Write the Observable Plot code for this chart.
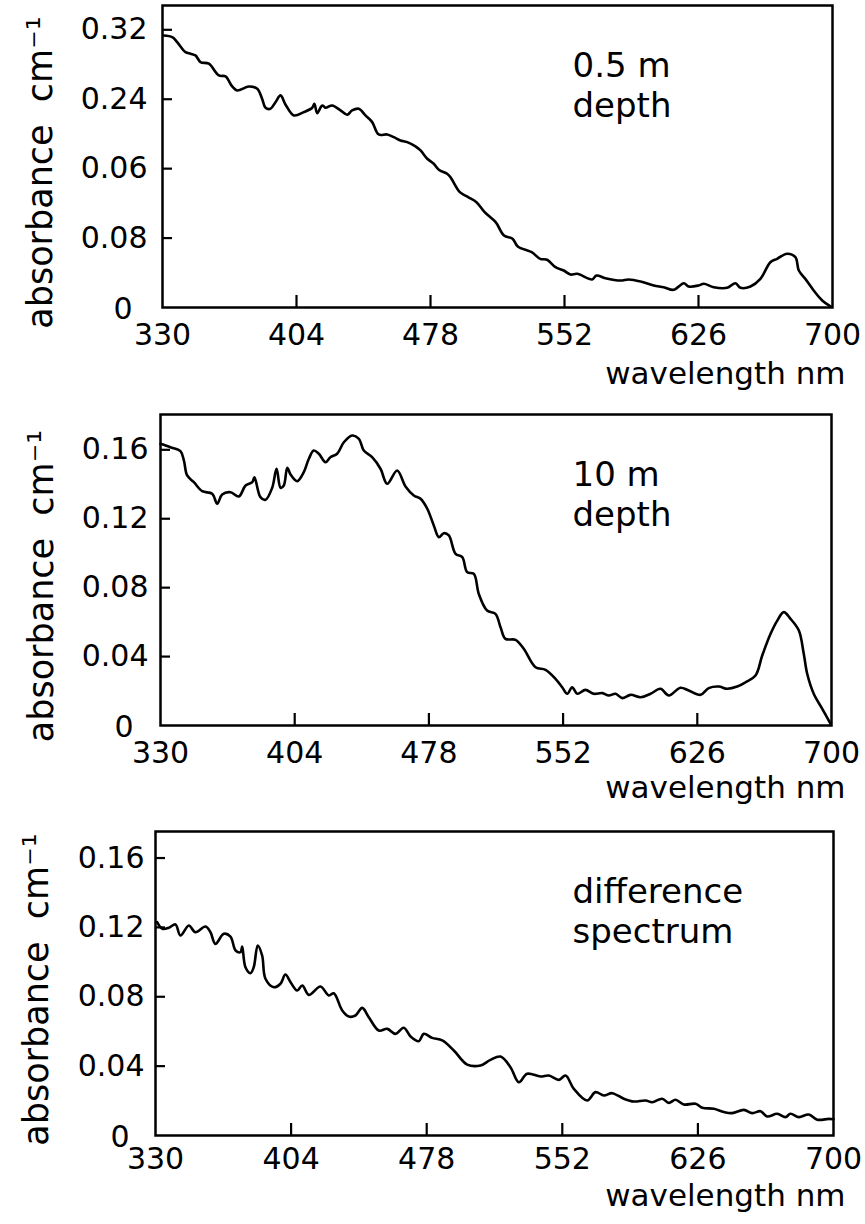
<!DOCTYPE html>
<html><head><meta charset="utf-8">
<script src="https://cdn.jsdelivr.net/npm/d3@7"></script>
<script src="https://cdn.jsdelivr.net/npm/@observablehq/plot@0.6"></script>
<style>body{margin:0;background:#fff} #chart svg{display:block}</style>
</head><body><div id="chart"></div>
<script>
// ---- data: panel 1 (0.5 m depth) ----
const wl1 = [330.7,335.4,338.1,342.7,345.5,348.2,351,355.6,361.1,364.8,368.5,371.2,377.7,382.3,385,386.9,389.6,392.4,395.2,397.9,402.5,408,412.7,413.9,415.4,418.2,420,423.7,428.3,432,434.7,438.4,442.1,445.8,449.4,454,457.7,461.4,465.1,469.7,472.5,476.2,479.8,482.6,487.2,489,494.2,498.8,503.4,507.9,514,518.6,523.3,526.2,533.9,538.6,542.4,547,551.6,555.3,559,567.3,569.6,574.6,582.9,587.5,594,601.3,606.8,612.3,617.9,620.6,626.1,628.9,634.4,641.8,646.4,649.2,654.7,660.2,665.7,669.4,674.9,679.5,681.4,685,689.6,694.3,698.9];
const abs1 = [0.3135,0.3116,0.3058,0.2943,0.2924,0.2905,0.2828,0.2809,0.2674,0.2663,0.2547,0.2501,0.2547,0.2521,0.2405,0.2302,0.229,0.2366,0.2444,0.234,0.2213,0.2251,0.2302,0.2348,0.224,0.2328,0.2302,0.2328,0.2271,0.2221,0.2271,0.229,0.2213,0.2136,0.1994,0.1994,0.1963,0.1925,0.1906,0.1856,0.181,0.1714,0.1656,0.1587,0.1541,0.1502,0.1329,0.1272,0.1214,0.1099,0.0983,0.083,0.0792,0.0703,0.0637,0.056,0.055,0.0465,0.0426,0.038,0.0388,0.0323,0.0369,0.0338,0.0311,0.0323,0.03,0.0254,0.0234,0.0204,0.028,0.0242,0.0254,0.0273,0.0234,0.0227,0.028,0.0227,0.0242,0.033,0.0522,0.0561,0.0619,0.058,0.0426,0.033,0.0196,0.0081,0.0012];
// ---- data: panel 2 (10 m depth) ----
const wl2 = [330,335.5,341,342.9,344.7,348.4,353,358.5,361.3,364,368.6,373.2,376.9,380.6,381.8,385.1,387.9,391.6,394,396.2,398,399.9,401.7,405.4,409,411.8,414.5,417.3,421,423.7,427.4,431.1,435.7,439.4,442.1,446.7,451.3,455,460.5,465.1,469.7,473.4,477.1,480.7,483.5,486.2,489,492.7,496.4,499.1,502.8,505.5,510.1,514.7,517.5,520.2,525.8,530.3,536.8,542.3,547.8,551.5,554.3,557,559.8,564.3,568.9,573.6,577.2,580.9,584.6,589.2,594.7,600.2,605.7,610.3,616.7,621.3,627.8,632.3,637.9,642.5,648,652.6,658.1,661.8,666.4,670.1,673.7,677.4,682,684.7,686.6,690.2,694.9,699.5];
const abs2 = [0.1635,0.1615,0.1592,0.1538,0.1451,0.1412,0.136,0.1345,0.1287,0.1341,0.1354,0.1329,0.1393,0.1412,0.1441,0.1325,0.131,0.138,0.149,0.138,0.1393,0.1496,0.1457,0.1418,0.147,0.1548,0.1596,0.1577,0.1528,0.1557,0.1577,0.1644,0.1683,0.1664,0.1596,0.1557,0.149,0.1403,0.148,0.1387,0.1335,0.1316,0.1258,0.1161,0.1093,0.1116,0.1103,0.0996,0.0977,0.089,0.088,0.0764,0.0667,0.0648,0.057,0.0503,0.0497,0.0445,0.0338,0.0323,0.0271,0.0222,0.0184,0.0222,0.0184,0.0207,0.0184,0.0188,0.0174,0.0184,0.0159,0.0178,0.0164,0.0184,0.0213,0.0174,0.0219,0.0203,0.0178,0.0217,0.0226,0.0213,0.0226,0.0251,0.029,0.0406,0.0532,0.0609,0.0658,0.0619,0.0551,0.0416,0.03,0.0184,0.0097,0.001];
// ---- data: panel 3 (difference spectrum) ----
const wl3 = [330.9,333.7,337.3,340.9,343.6,348.2,351.8,357.3,360,362.7,367.3,370.9,373.7,376.4,377.3,379.1,381.8,383.6,385.8,388.2,390,394.6,398.2,400.9,403.7,407.3,410.1,413.7,420,424.6,427.3,431.9,435.5,439.1,442.8,446.4,451.9,456.5,461,465.5,469.2,473.7,476.4,481,486.5,492.8,500.1,507.4,512.8,518.3,523.7,528.3,532.8,540.1,544.6,550.1,553.8,558.3,565.6,570.1,574.7,579.2,585.6,591,597.4,601.1,606.5,610.1,613.8,618.3,624.7,628.4,634.7,640.2,644.7,651.1,655.6,660.2,663.8,669.3,673.8,676.5,681.1,686.5,691.1,697.5,700];
const abs3 = [0.123,0.1192,0.1198,0.1217,0.1153,0.1211,0.1172,0.1205,0.1172,0.1105,0.1163,0.1147,0.1067,0.1057,0.109,0.097,0.0936,0.097,0.1096,0.1038,0.0904,0.0855,0.0875,0.0928,0.0884,0.0836,0.0865,0.0811,0.0859,0.0807,0.082,0.0721,0.0686,0.0692,0.0736,0.0682,0.0605,0.0615,0.0586,0.0621,0.0571,0.0544,0.0586,0.0563,0.0548,0.049,0.0409,0.0404,0.0436,0.0455,0.0394,0.0307,0.0356,0.034,0.0346,0.0321,0.0346,0.0269,0.0202,0.025,0.0231,0.0244,0.0212,0.0196,0.0202,0.0192,0.0212,0.0188,0.0206,0.0179,0.0183,0.016,0.0154,0.0135,0.0129,0.0148,0.0129,0.014,0.011,0.0125,0.0106,0.0125,0.0106,0.0121,0.0091,0.0096,0.0094];

// ---- ticks and labels ----
const xTicks = [330, 404, 478, 552, 626, 700];
const xInnerTicks = [404, 478, 552, 626];
const yTicks1 = [0.08, 0.16, 0.24, 0.32];
const yLabels1 = ["0.08", "0.06", "0.24", "0.32"];
const yTicks2 = [0.04, 0.08, 0.12, 0.16];
const yLabels2 = ["0.04", "0.08", "0.12", "0.16"];
const yTicks3 = [0.04, 0.08, 0.12, 0.16];
const yLabels3 = ["0.04", "0.08", "0.12", "0.16"];
const zeroLabel = "0";
const notes = ["0.5 m\ndepth", "10 m\ndepth", "difference\nspectrum"];
const xLabel = "wavelength nm";
const yLabel = "absorbance\u00a0\u00a0cm\u207b\u00b9";

const FONT = "'DejaVu Sans', sans-serif";

const panels = [
  {wl: wl1, ab: abs1, yt: yTicks1, yl: yLabels1, note: notes[0], height: 400, mt: 5, mb: 93, ml: 162, mr: 33, ymax: 0.348, ypad: 15, xpad: 16, xlabDy: 76, ylabX: 51, ylabDy: 16},
  {wl: wl2, ab: abs2, yt: yTicks2, yl: yLabels2, note: notes[1], height: 420, mt: 14, mb: 95, ml: 160, mr: 34, ymax: 0.1805, ypad: 12, xpad: 16, xlabDy: 72, ylabX: 52, ylabDy: 16},
  {wl: wl3, ab: abs3, yt: yTicks3, yl: yLabels3, note: notes[2], height: 404, mt: 11, mb: 89, ml: 155, mr: 32, ymax: 0.1753, ypad: 11, xpad: 12, xlabDy: 70, ylabX: 47, ylabDy: 6}
];

function panel(p) {
  const data = p.wl.map((w, i) => ({w, a: p.ab[i]}));
  const fmt = v => p.yl[p.yt.indexOf(v)];
  const fw = 865 - p.ml - p.mr;
  const fh = p.height - p.mt - p.mb;
  return Plot.plot({
    width: 865, height: p.height,
    marginTop: p.mt, marginBottom: p.mb, marginLeft: p.ml, marginRight: p.mr,
    x: {domain: [330, 700], axis: null},
    y: {domain: [0, p.ymax], axis: null},
    style: {fontFamily: FONT, fontSize: "30px", color: "black", background: "white"},
    marks: [
      // inward tick marks
      Plot.tickX(xInnerTicks, {x: d => d, insetTop: fh - 12, stroke: "black", strokeWidth: 2.2}),
      Plot.tickY(p.yt, {y: d => d, insetRight: fw - 10, stroke: "black", strokeWidth: 2.2}),
      // tick labels
      Plot.axisX(xTicks, {tickSize: 0, tickPadding: p.xpad, label: null, fontSize: 30, tickFormat: d => String(d)}),
      Plot.axisY(p.yt, {tickSize: 0, tickPadding: p.ypad, tickFormat: fmt, label: null, fontSize: 30}),
      Plot.axisY([0], {tickSize: 0, tickPadding: p.ypad + 15, tickFormat: () => zeroLabel, label: null, fontSize: 30, dy: 2}),
      Plot.frame({stroke: "black", strokeWidth: 2.5}),
      Plot.line(data, {x: "w", y: "a", stroke: "black", strokeWidth: 2.6, curve: "catmull-rom"}),
      Plot.text([p.note], {frameAnchor: "top-left", text: d => d, dx: 572 - p.ml, dy: 43, lineAnchor: "top", textAnchor: "start", fontSize: 34, lineHeight: 1.18}),
      Plot.text([xLabel], {frameAnchor: "bottom-right", text: d => d, textAnchor: "end", lineAnchor: "bottom", dx: 845 - (865 - p.mr), dy: p.xlabDy, fontSize: 31}),
      Plot.text([yLabel], {frameAnchor: "left", text: d => d, rotate: -90, textAnchor: "middle", lineAnchor: "bottom", dx: p.ylabX - p.ml, dy: p.ylabDy, fontSize: 35})
    ]
  });
}

const root = document.getElementById("chart");
panels.forEach(p => root.appendChild(panel(p)));
</script>
</body></html>
